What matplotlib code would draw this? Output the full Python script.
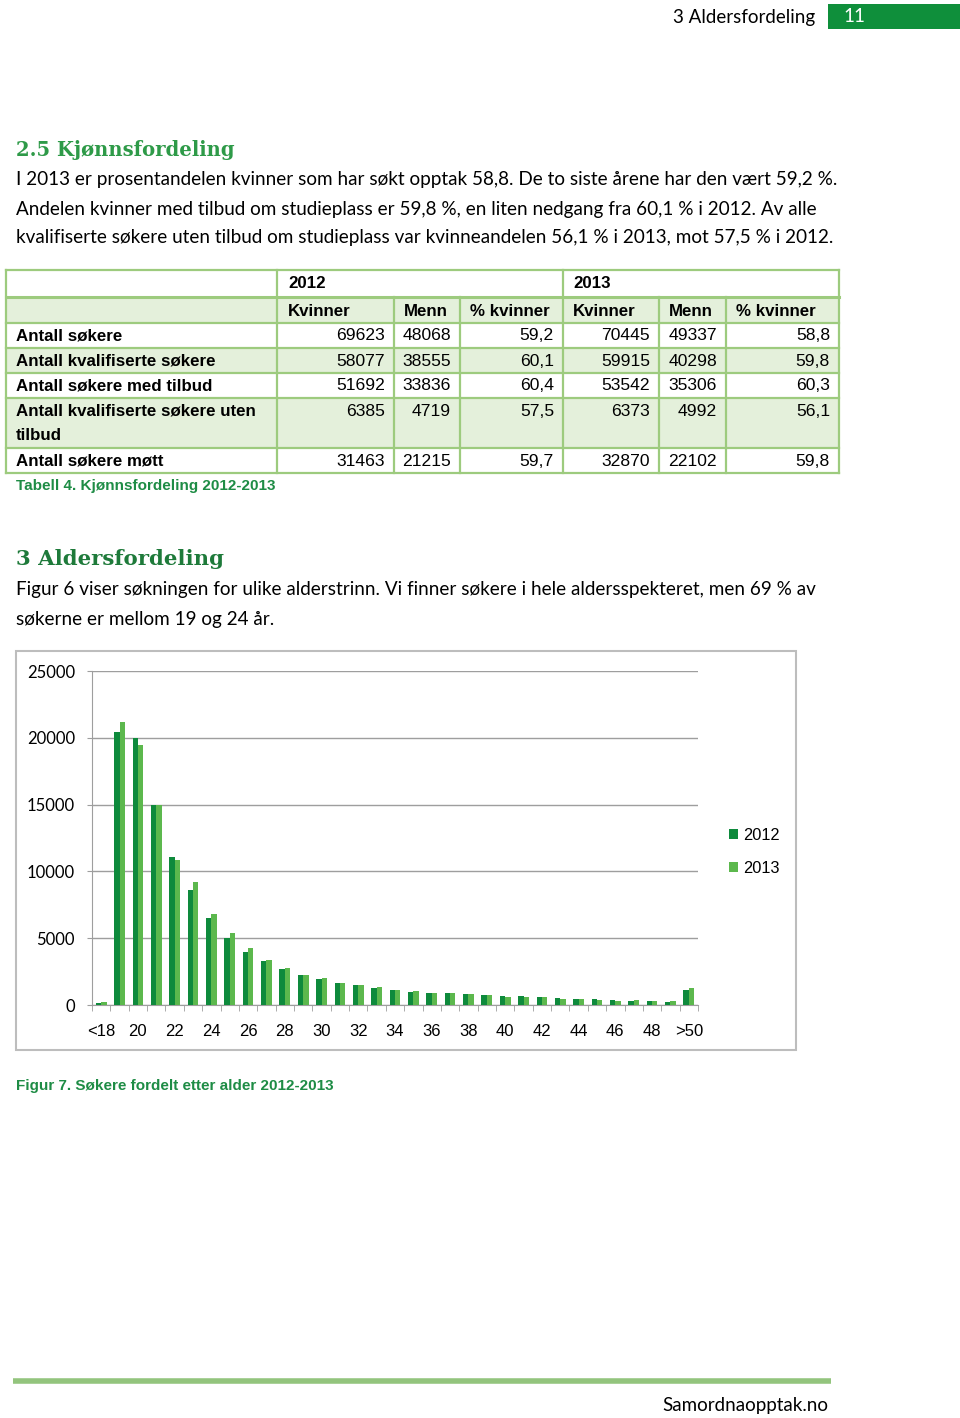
import numpy as np
import matplotlib
matplotlib.use("Agg")
import matplotlib.pyplot as plt
from matplotlib.patches import Rectangle

# ---------- table data (Tabell 4) ----------
row_labels = ["Antall søkere", "Antall kvalifiserte søkere", "Antall søkere med tilbud",
              "Antall kvalifiserte søkere uten\ntilbud", "Antall søkere møtt"]
kv12 = [69623, 58077, 51692, 6385, 31463]
me12 = [48068, 38555, 33836, 4719, 21215]
pk12 = [59.2, 60.1, 60.4, 57.5, 59.7]
kv13 = [70445, 59915, 53542, 6373, 32870]
me13 = [49337, 40298, 35306, 4992, 22102]
pk13 = [58.8, 59.8, 60.3, 56.1, 59.8]

# ---------- chart data (Figur 7) ----------
ages = ["<18"] + [str(a) for a in range(19, 50)] + [">50"]
n2012 = [180, 20420, 20000, 14980, 11090, 8600, 6480, 4990, 3990, 3290, 2670,
         2220, 1920, 1650, 1470, 1300, 1120, 1000, 870, 900, 820, 750, 700,
         670, 570, 520, 450, 420, 350, 320, 300, 200, 1120]
n2013 = [200, 21190, 19450, 15000, 10820, 9200, 6780, 5360, 4240, 3370, 2740,
         2220, 1990, 1650, 1520, 1350, 1150, 1050, 900, 870, 820, 720, 620,
         600, 620, 470, 420, 400, 320, 370, 320, 270, 1250]

BODY = ["Lato", "DejaVu Sans"]
NARROW = ["Liberation Sans", "DejaVu Sans"]
SERIF = ["DejaVu Serif"]
DARK = "#0E8A3C"
LIGHT = "#5CB84D"
TBORDER = "#9DCB7E"
TSHADE = "#E4F0DB"
CAPTION = "#1E8C45"

W, H = 960, 1418
fig = plt.figure(figsize=(W / 100, H / 100), dpi=100)
pg = fig.add_axes([0, 0, 1, 1])
pg.set_xlim(0, W)
pg.set_ylim(H, 0)
pg.axis("off")

# --- page header / footer
pg.text(673, 17, "3 Aldersfordeling", family=BODY, fontsize=13.5, va="center")
pg.add_patch(Rectangle((828, 4), 132, 25, color="#0F8F3B", lw=0))
pg.text(843, 17, "11", family=BODY, fontsize=13.5, va="center", color="white")
pg.plot([13, 831], [1381, 1381], color="#93C47D", lw=4, solid_capstyle="butt")
pg.text(828, 1406, "Samordnaopptak.no", family=BODY, fontsize=13.5, va="center", ha="right")

# --- section 2.5 text
pg.text(16, 150, "2.5 Kjønnsfordeling", family=SERIF, fontsize=14.1, weight="bold",
        color="#2E9A48", va="center")
para1 = ["I 2013 er prosentandelen kvinner som har søkt opptak 58,8. De to siste årene har den vært 59,2 %.",
         "Andelen kvinner med tilbud om studieplass er 59,8 %, en liten nedgang fra 60,1 % i 2012. Av alle",
         "kvalifiserte søkere uten tilbud om studieplass var kvinneandelen 56,1 % i 2013, mot 57,5 % i 2012."]
for i, line in enumerate(para1):
    pg.text(16, 180 + 29 * i, line, family=BODY, fontsize=13.6, va="center")

# --- table
cols = [6, 277, 394, 460, 563, 659, 726, 839]
rows = [270, 297, 323, 348, 373, 398, 448, 473]
shaded = [False, True, False, True, False, True, False]
for r in range(7):
    if shaded[r]:
        pg.add_patch(Rectangle((cols[0], rows[r]), cols[-1] - cols[0], rows[r + 1] - rows[r],
                               color=TSHADE, lw=0))
for y in rows:
    pg.plot([cols[0], cols[-1]], [y, y], color=TBORDER, lw=2.2 if y == 297 else 1.6)
for j, x in enumerate(cols):
    if j in (2, 3, 5, 6):
        pg.plot([x, x], [rows[1], rows[-1]], color=TBORDER, lw=1.6)
    else:
        pg.plot([x, x], [rows[0], rows[-1]], color=TBORDER, lw=1.6)

lfs = 12.2   # bold labels
nfs = 12.6   # numbers
pg.text(288, 284, "2012", family=NARROW, fontsize=lfs, weight="bold", va="center")
pg.text(573, 284, "2013", family=NARROW, fontsize=lfs, weight="bold", va="center")
for x, lab in zip([288, 404, 470, 573, 669, 736],
                  ["Kvinner", "Menn", "% kvinner", "Kvinner", "Menn", "% kvinner"]):
    pg.text(x, 311, lab, family=NARROW, fontsize=lfs, weight="bold", va="center")

for i, lab in enumerate(row_labels):
    ytop = rows[2 + i]
    if "\n" in lab:
        a, b = lab.split("\n")
        pg.text(16, ytop + 13, a, family=NARROW, fontsize=lfs, weight="bold", va="center")
        pg.text(16, ytop + 38, b, family=NARROW, fontsize=lfs, weight="bold", va="center")
    else:
        pg.text(16, ytop + 13, lab, family=NARROW, fontsize=lfs, weight="bold", va="center")
    vals = [str(kv12[i]), str(me12[i]), f"{pk12[i]:.1f}".replace(".", ","),
            str(kv13[i]), str(me13[i]), f"{pk13[i]:.1f}".replace(".", ",")]
    for j, v in enumerate(vals):
        pg.text(cols[j + 2] - 9, ytop + 13, v, family=NARROW, fontsize=nfs,
                ha="right", va="center")

pg.text(16, 486, "Tabell 4. Kjønnsfordeling 2012-2013", family=NARROW, fontsize=11,
        weight="bold", color=CAPTION, va="center")

# --- section 3 text
pg.text(16, 559, "3 Aldersfordeling", family=SERIF, fontsize=15.3, weight="bold",
        color="#1E7A3A", va="center")
para2 = ["Figur 6 viser søkningen for ulike alderstrinn. Vi finner søkere i hele aldersspekteret, men 69 % av",
         "søkerne er mellom 19 og 24 år."]
for i, line in enumerate(para2):
    pg.text(16, 590 + 29 * i, line, family=BODY, fontsize=13.6, va="center")

# chart frame
pg.add_patch(Rectangle((16, 651), 780, 399, fill=False, ec="#BDBDBD", lw=1.5))
pg.text(16, 1086, "Figur 7. Søkere fordelt etter alder 2012-2013", family=NARROW,
        fontsize=11, weight="bold", color=CAPTION, va="center")

# ---------- bar chart ----------
ax = fig.add_axes([92 / W, 1 - 1005 / H, 606 / W, 334 / H])
x = np.arange(len(ages))
bw = 0.29
b1 = ax.bar(x - bw / 2, n2012, bw, color=DARK, label="2012", zorder=3)
b2 = ax.bar(x + bw / 2, n2013, bw, color=LIGHT, label="2013", zorder=3)
ax.set_xlim(-0.5, len(ages) - 0.5)
ax.set_ylim(0, 25000)
ax.set_yticks(np.arange(0, 25001, 5000))
ax.yaxis.grid(True, color="#9E9E9E", lw=1)
ax.set_axisbelow(True)
for s in ["top", "right"]:
    ax.spines[s].set_visible(False)
for s in ["left", "bottom"]:
    ax.spines[s].set_color("#9E9E9E")
ax.tick_params(axis="y", length=3.6, color="#9E9E9E", pad=8.6)
for t in ax.get_yticklabels():
    t.set_family(BODY)
    t.set_fontsize(12)
ax.set_xticks(x[::2])
ax.set_xticklabels(ages[::2], family=NARROW, fontsize=12)
ax.set_xticks(np.arange(-0.5, len(ages), 1), minor=True)
ax.tick_params(axis="x", which="major", length=0, pad=14)
ax.tick_params(axis="x", which="minor", length=4, color="#9E9E9E")

ax.legend(handles=[b1, b2], loc="center left", bbox_to_anchor=(714 / W, 1 - 852 / H),
          bbox_transform=fig.transFigure, frameon=False, prop={"family": NARROW, "size": 11.8},
          handlelength=0.55, handleheight=0.55, handletextpad=0.3, labelspacing=1.1)

fig.savefig("out.png", dpi=100)
